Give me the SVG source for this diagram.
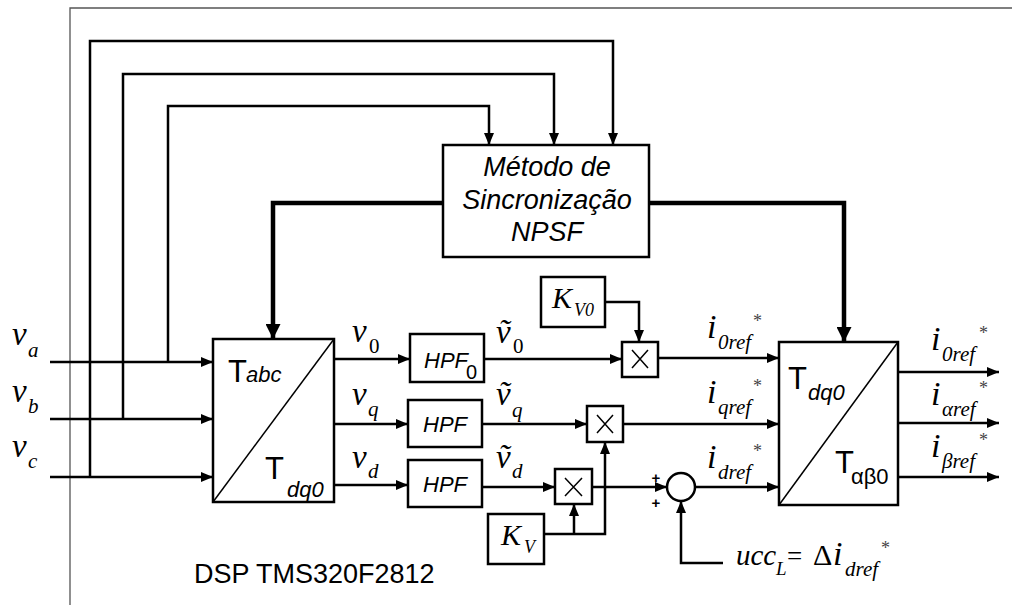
<svg xmlns="http://www.w3.org/2000/svg" width="1012" height="605" viewBox="0 0 1012 605">
<style>
.ln{fill:none;stroke:#000;stroke-width:2.5}
.tk{fill:none;stroke:#000;stroke-width:4.5}
.bx{fill:#fff;stroke:#000;stroke-width:2.5}
.dg{stroke:#000;stroke-width:1.5}
.fr{fill:none;stroke:#555;stroke-width:1.3}
.ser{font-family:"Liberation Serif","DejaVu Serif",serif;font-style:italic;fill:#000}
.up{font-family:"Liberation Serif","DejaVu Serif",serif;fill:#000}
.san{font-family:"Liberation Sans",Arial,sans-serif;fill:#000}
.it{font-style:italic}
.st{font-family:"Liberation Serif",serif;font-size:18px;fill:#444}
</style>
<defs>
<marker id="a" markerUnits="userSpaceOnUse" markerWidth="12" markerHeight="10" refX="12" refY="5" orient="auto"><path d="M0,0 L12,5 L0,10 z" fill="#000"/></marker>
<marker id="b" markerUnits="userSpaceOnUse" markerWidth="15" markerHeight="15" refX="15" refY="7.5" orient="auto"><path d="M0,0 L15,7.5 L0,15 z" fill="#000"/></marker>
</defs>
<path class="fr" d="M70,605 V8 H1012"/>
<g id="connectors">
<path class="ln" d="M50,362 H213" marker-end="url(#a)"/>
<path class="ln" d="M50,419 H213" marker-end="url(#a)"/>
<path class="ln" d="M50,477 H213" marker-end="url(#a)"/>
<path class="ln" d="M90,477 V41 H613 V145" marker-end="url(#a)"/>
<path class="ln" d="M123,419 V74 H554 V145" marker-end="url(#a)"/>
<path class="ln" d="M168,362 V106 H489 V145" marker-end="url(#a)"/>
<path class="tk" d="M443,203 H273 V339" marker-end="url(#b)"/>
<path class="tk" d="M649,203 H844 V342" marker-end="url(#b)"/>
<path class="ln" d="M334,359 H410" marker-end="url(#a)"/>
<path class="ln" d="M334,424 H408" marker-end="url(#a)"/>
<path class="ln" d="M334,485 H408" marker-end="url(#a)"/>
<path class="ln" d="M484,359 H622" marker-end="url(#a)"/>
<path class="ln" d="M482,424 H587" marker-end="url(#a)"/>
<path class="ln" d="M482,487 H555" marker-end="url(#a)"/>
<path class="ln" d="M658,358 H779" marker-end="url(#a)"/>
<path class="ln" d="M623,424 H779" marker-end="url(#a)"/>
<path class="ln" d="M592,487 H667" marker-end="url(#a)"/>
<path class="ln" d="M695,487 H779" marker-end="url(#a)"/>
<path class="ln" d="M605,302 H639 V342" marker-end="url(#a)"/>
<path class="ln" d="M544,534 H605 V442" marker-end="url(#a)"/>
<path class="ln" d="M574,534 V504" marker-end="url(#a)"/>
<path class="ln" d="M723,563 H681 V501" marker-end="url(#a)"/>
<path class="ln" d="M898,372 H999" marker-end="url(#a)"/>
<path class="ln" d="M898,423 H999" marker-end="url(#a)"/>
<path class="ln" d="M898,477 H999" marker-end="url(#a)"/>
</g>
<g id="inputs">
<text class="ser" x="12" y="345" font-size="33">v</text><text class="ser" x="28" y="357" font-size="21">a</text>
<text class="ser" x="12" y="402" font-size="33">v</text><text class="ser" x="28" y="413" font-size="21">b</text>
<text class="ser" x="12" y="457" font-size="33">v</text><text class="ser" x="28" y="468" font-size="21">c</text>
</g>
<g id="npsf">
<rect class="bx" x="443" y="145" width="206" height="112"/>
<text class="san it" font-size="27" text-anchor="middle"><tspan x="547" y="176">Método de</tspan><tspan x="547" y="209">Sincronização</tspan><tspan x="547" y="241">NPSF</tspan></text>
</g>
<g id="tabc">
<rect class="bx" x="213" y="339" width="121" height="163"/>
<line class="dg" x1="213" y1="502" x2="334" y2="339"/>
<text class="san" x="228" y="382" font-size="31">T</text><text class="san it" x="246" y="382" font-size="22">abc</text>
<text class="san" x="265" y="479" font-size="31">T</text><text class="san it" x="287" y="497" font-size="22">dq0</text>
</g>
<g id="vlabels">
<text class="ser" x="352" y="342" font-size="33">v</text><text class="up" x="369" y="353" font-size="21">0</text>
<text class="ser" x="352" y="405" font-size="33">v</text><text class="ser" x="368" y="416" font-size="21">q</text>
<text class="ser" x="352" y="468" font-size="33">v</text><text class="ser" x="368" y="478" font-size="21">d</text>
</g>
<g id="hpf0">
<rect class="bx" x="410" y="334" width="74" height="48"/>
<text class="san it" x="424" y="368" font-size="22">HPF</text><text class="san" x="466" y="379" font-size="20">0</text>
</g>
<g id="hpfq">
<rect class="bx" x="408" y="400" width="74" height="47"/>
<text class="san it" x="445" y="432" font-size="22" text-anchor="middle">HPF</text>
</g>
<g id="hpfd">
<rect class="bx" x="408" y="460" width="74" height="47"/>
<text class="san it" x="445" y="492" font-size="22" text-anchor="middle">HPF</text>
</g>
<g id="vtlabels">
<text class="ser" x="496" y="343" font-size="33">ṽ</text><text class="up" x="513" y="353" font-size="21">0</text>
<text class="ser" x="496" y="405" font-size="33">ṽ</text><text class="ser" x="512" y="417" font-size="21">q</text>
<text class="ser" x="496" y="468" font-size="33">ṽ</text><text class="ser" x="512" y="478" font-size="21">d</text>
</g>
<g id="kv0">
<rect class="bx" x="541" y="277" width="64" height="50"/>
<text class="ser" x="552" y="308" font-size="30">K</text><text class="ser" x="574" y="316" font-size="18">V0</text>
</g>
<g id="kv">
<rect class="bx" x="488" y="514" width="56" height="50"/>
<text class="ser" x="501" y="545" font-size="30">K</text><text class="ser" x="524" y="553" font-size="18">V</text>
</g>
<g id="mult0">
<rect class="bx" x="622" y="342" width="36" height="35"/>
<path class="dg" d="M632,350 L648,368 M648,350 L632,368"/>
</g>
<g id="multq">
<rect class="bx" x="587" y="406" width="36" height="36"/>
<path class="dg" d="M597,415 L613,433 M613,415 L597,433"/>
</g>
<g id="multd">
<rect class="bx" x="555" y="469" width="37" height="35"/>
<path class="dg" d="M565,478 L582,496 M582,478 L565,496"/>
</g>
<g id="sum">
<circle class="bx" cx="681" cy="487" r="14"/>
<text class="san" x="656" y="483" font-size="15" text-anchor="middle" font-weight="bold">+</text>
<text class="san" x="656" y="508" font-size="15" text-anchor="middle" font-weight="bold">+</text>
</g>
<g id="irefs">
<text class="ser" x="707" y="338" font-size="34">i</text><text class="ser" x="718" y="349" font-size="21">0ref</text><text class="st" x="753" y="327">*</text>
<text class="ser" x="707" y="403" font-size="34">i</text><text class="ser" x="718" y="414" font-size="21">qref</text><text class="st" x="753" y="392">*</text>
<text class="ser" x="707" y="468" font-size="34">i</text><text class="ser" x="718" y="479" font-size="21">dref</text><text class="st" x="753" y="457">*</text>
</g>
<g id="tdq0">
<rect class="bx" x="779" y="342" width="119" height="163"/>
<line class="dg" x1="779" y1="505" x2="898" y2="342"/>
<text class="san" x="788" y="389" font-size="31">T</text><text class="san it" x="808" y="400" font-size="22">dq0</text>
<text class="san" x="835" y="473" font-size="31">T</text><text class="san" x="851" y="484" font-size="22">αβ0</text>
</g>
<g id="outputs">
<text class="ser" x="931" y="350" font-size="34">i</text><text class="ser" x="942" y="361" font-size="21">0ref</text><text class="st" x="979" y="339">*</text>
<text class="ser" x="931" y="405" font-size="34">i</text><text class="ser" x="942" y="416" font-size="21">αref</text><text class="st" x="979" y="394">*</text>
<text class="ser" x="931" y="457" font-size="34">i</text><text class="ser" x="942" y="468" font-size="21">βref</text><text class="st" x="979" y="446">*</text>
</g>
<g id="ucc">
<text class="ser" x="736" y="565" font-size="29">ucc</text><text class="ser" x="776" y="575" font-size="19">L</text><text class="up" x="787" y="565" font-size="27">=</text><text class="up" x="813" y="565" font-size="30">Δ</text><text class="ser" x="833" y="565" font-size="34">i</text><text class="ser" x="845" y="576" font-size="21">dref</text><text class="st" x="881" y="554">*</text>
</g>
<text class="san" x="194" y="583" font-size="27">DSP TMS320F2812</text>
</svg>
